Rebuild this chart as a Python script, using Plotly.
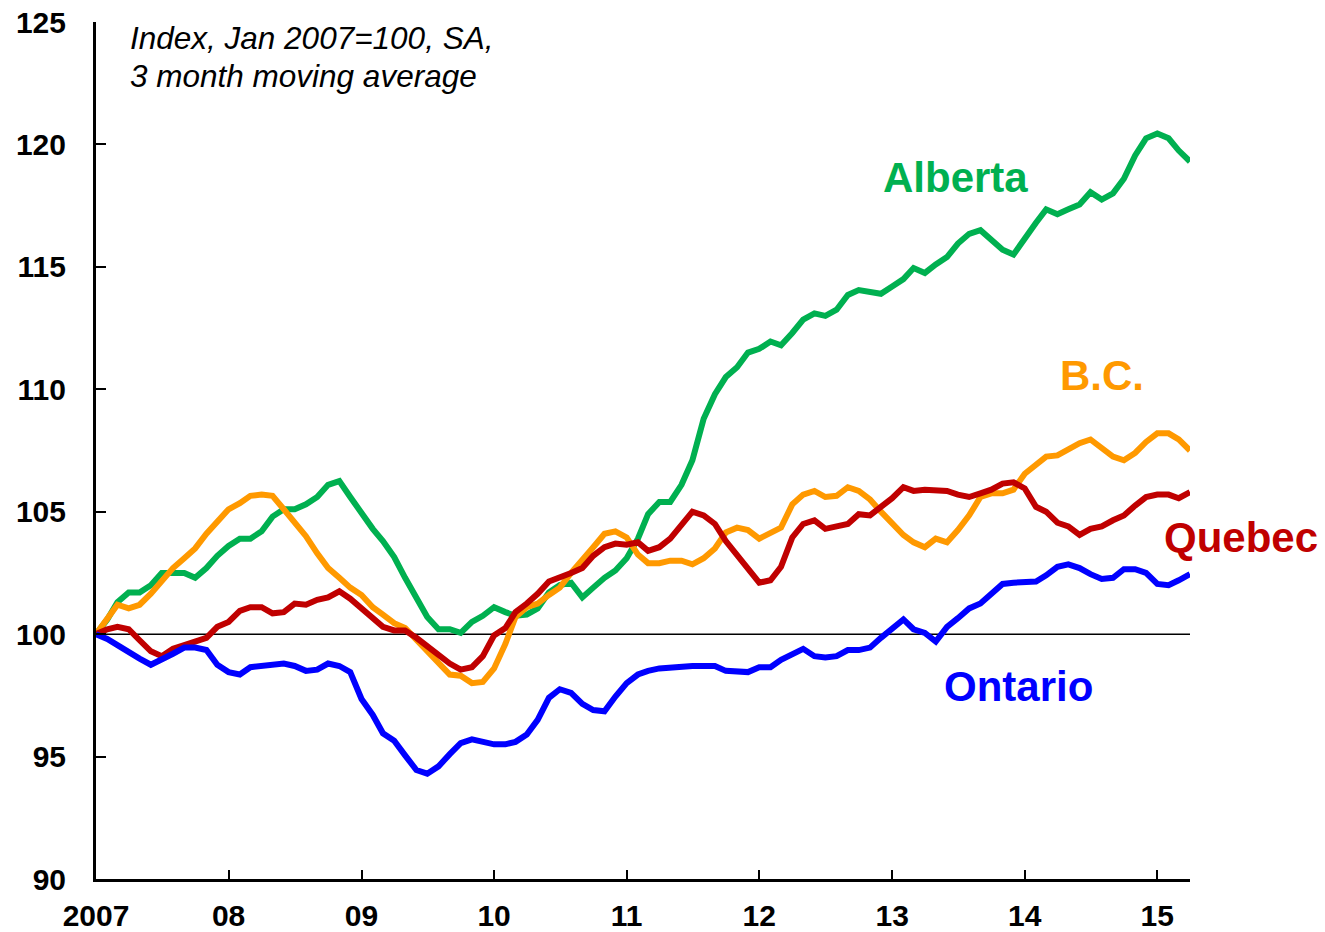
import plotly.graph_objects as go
import pandas as pd

months = pd.date_range("2007-01-01", periods=100, freq="MS")

alberta = [100.0, 100.6, 101.3, 101.7, 101.7, 102.0, 102.5, 102.5, 102.5, 102.3,
           102.7, 103.2, 103.6, 103.9, 103.9, 104.2, 104.8, 105.1, 105.1, 105.3,
           105.6, 106.1, 106.25, 105.6, 104.9, 104.3, 103.8, 103.15, 102.3, 101.5,
           100.7, 100.2, 100.2, 100.05, 100.5, 100.75, 101.1, 100.9, 100.75, 100.8,
           101.05, 101.7, 102.0, 102.1, 101.5, 101.9, 102.3, 102.6, 103.1, 103.9,
           104.9, 105.4, 105.4, 106.1, 107.1, 108.8, 109.8, 110.5, 110.9, 111.5,
           111.65, 111.95, 111.8, 112.3, 112.85, 113.1, 113.0, 113.25, 113.85, 114.05,
           113.95, 113.9, 114.2, 114.5, 114.95, 114.75, 115.1, 115.4, 115.95, 116.35,
           116.5, 116.1, 115.7, 115.5, 116.2, 116.8, 117.35, 117.15, 117.35, 117.55,
           118.05, 117.75, 118.0, 118.6, 119.55, 120.25, 120.45, 120.25, 119.75, 119.3]

bc = [100.0, 100.6, 101.2, 101.05, 101.2, 101.65, 102.2, 102.7, 103.1, 103.5,
      104.1, 104.6, 105.1, 105.35, 105.65, 105.7, 105.65, 105.1, 104.6, 104.0,
      103.3, 102.7, 102.3, 101.9, 101.6, 101.1, 100.8, 100.45, 100.25, 99.75,
      99.3, 98.8, 98.35, 98.3, 98.0, 98.05, 98.6, 99.6, 100.7, 101.1,
      101.25, 101.6, 101.9, 102.5, 103.0, 103.55, 104.1, 104.2, 103.95, 103.25,
      102.9, 102.9, 103.0, 103.0, 102.85, 103.1, 103.5, 104.15, 104.35, 104.25,
      103.9, 104.1, 104.35, 105.3, 105.7, 105.85, 105.6, 105.65, 106.0, 105.85,
      105.5, 105.0, 104.55, 104.05, 103.75, 103.55, 103.9, 103.75, 104.25, 104.85,
      105.6, 105.75, 105.75, 105.9, 106.55, 106.95, 107.25, 107.3, 107.55, 107.8,
      107.95, 107.6, 107.25, 107.1, 107.4, 107.85, 108.2, 108.2, 107.95, 107.5]

quebec = [100.0, 100.2, 100.3, 100.2, 99.75, 99.3, 99.1, 99.4, 99.55, 99.7,
          99.85, 100.3, 100.5, 100.95, 101.1, 101.1, 100.85, 100.9, 101.25, 101.2,
          101.4, 101.5, 101.75, 101.45, 101.05, 100.6, 100.3, 100.15, 100.15, 99.85,
          99.5, 99.15, 98.8, 98.55, 98.65, 99.1, 99.95, 100.25, 100.9, 101.25,
          101.65, 102.15, 102.3, 102.5, 102.7, 103.2, 103.55, 103.7, 103.65, 103.75,
          103.4, 103.55, 103.9, 104.45, 105.0, 104.85, 104.5, 103.8, 103.2, 102.7,
          102.1, 102.2, 102.75, 103.95, 104.5, 104.65, 104.3, 104.4, 104.5, 104.9,
          104.85, 105.2, 105.55, 106.0, 105.85, 105.9, 105.9, 105.85, 105.7, 105.6,
          105.75, 105.9, 106.15, 106.2, 105.95, 105.2, 105.0, 104.55, 104.4, 104.05,
          104.3, 104.4, 104.65, 104.85, 105.25, 105.6, 105.7, 105.7, 105.55, 105.8]

ontario = [100.0, 99.8, 99.55, 99.25, 99.0, 98.75, 98.95, 99.2, 99.45, 99.45,
           99.35, 98.75, 98.45, 98.35, 98.65, 98.7, 98.7, 98.8, 98.7, 98.5,
           98.55, 98.8, 98.7, 98.45, 97.35, 96.7, 95.95, 95.65, 95.05, 94.45,
           94.3, 94.6, 95.1, 95.55, 95.7, 95.6, 95.5, 95.5, 95.6, 95.9,
           96.5, 97.4, 97.75, 97.6, 97.15, 96.9, 96.85, 97.45, 98.0, 98.35,
           98.5, 98.6, 98.65, 98.7, 98.7, 98.7, 98.7, 98.5, 98.45, 98.45,
           98.65, 98.65, 98.95, 99.2, 99.4, 99.1, 99.05, 99.1, 99.35, 99.35,
           99.45, 99.85, 100.2, 100.6, 100.2, 100.05, 99.7, 100.3, 100.65, 101.05,
           101.25, 101.65, 102.05, 102.1, 102.15, 102.15, 102.4, 102.75, 102.85, 102.7,
           102.45, 102.25, 102.3, 102.65, 102.65, 102.5, 102.05, 102.0, 102.2, 102.45]

tick_dates = ["2007-01-01", "2008-01-01", "2009-01-01", "2010-01-01", "2011-01-01",
              "2012-01-01", "2013-01-01", "2014-01-01", "2015-01-01"]
tick_text = ["2007", "08", "09", "10", "11", "12", "13", "14", "15"]
y_ticks = [90, 95, 100, 105, 110, 115, 120, 125]

FONT = "Liberation Sans, Arial, sans-serif"

series = [
    ("Alberta", alberta, "#00B050"),
    ("B.C.", bc, "#FF9900"),
    ("Quebec", quebec, "#C00000"),
    ("Ontario", ontario, "#0000FF"),
]

fig = go.Figure()
for name, vals, col in series:
    fig.add_trace(go.Scatter(x=months, y=vals, mode="lines", name=name,
                             line=dict(color=col, width=6), showlegend=False))

fig.add_shape(type="line", xref="paper", x0=0, x1=1, yref="y", y0=100, y1=100,
              line=dict(color="black", width=1.5), layer="below")

labels = [
    ("Alberta", 0.786, 0.818, "#00B050"),
    ("B.C.", 0.9196, 0.587, "#FF9900"),
    ("Quebec", 1.0466, 0.399, "#C00000"),
    ("Ontario", 0.8428, 0.2252, "#0000FF"),
]
for txt, x, y, col in labels:
    fig.add_annotation(text="<b>%s</b>" % txt, x=x, y=y, xref="paper", yref="paper",
                       xanchor="center", yanchor="middle", showarrow=False,
                       font=dict(family=FONT, size=42, color=col))

fig.add_annotation(text="<i>Index, Jan 2007=100, SA,</i>", x=0.0293, y=(879-38)/857,
                   xref="paper", yref="paper", xanchor="left", yanchor="middle",
                   showarrow=False, font=dict(family=FONT, size=31.5, color="black"))
fig.add_annotation(text="<i>3 month moving average</i>", x=0.0293, y=(879-76)/857,
                   xref="paper", yref="paper", xanchor="left", yanchor="middle",
                   showarrow=False, font=dict(family=FONT, size=31.5, color="black"))

fig.update_layout(
    width=1325, height=932,
    margin=dict(l=96, r=135, t=22, b=53),
    paper_bgcolor="white", plot_bgcolor="white",
    font=dict(family=FONT, color="black"),
    xaxis=dict(type="date", range=["2007-01-01", "2015-04-01"],
               tickvals=tick_dates, ticktext=tick_text, automargin=False,
               showgrid=False, zeroline=False,
               showline=True, linecolor="black", linewidth=3,
               ticks="inside", ticklen=9, tickwidth=2, tickcolor="black",
               tickfont=dict(family=FONT, size=30, color="black", weight="bold"),
               ticklabelstandoff=8),
    yaxis=dict(range=[90, 125], tickvals=y_ticks, automargin=False,
               showgrid=False, zeroline=False,
               showline=True, linecolor="black", linewidth=3,
               ticks="inside", ticklen=10, tickwidth=2, tickcolor="black",
               tickfont=dict(family=FONT, size=30, color="black", weight="bold"),
               ticklabelstandoff=21),
)

fig.write_html("out.html", config={"displayModeBar": False},
               post_script="document.body.style.margin='0';document.body.style.overflow='hidden';")
